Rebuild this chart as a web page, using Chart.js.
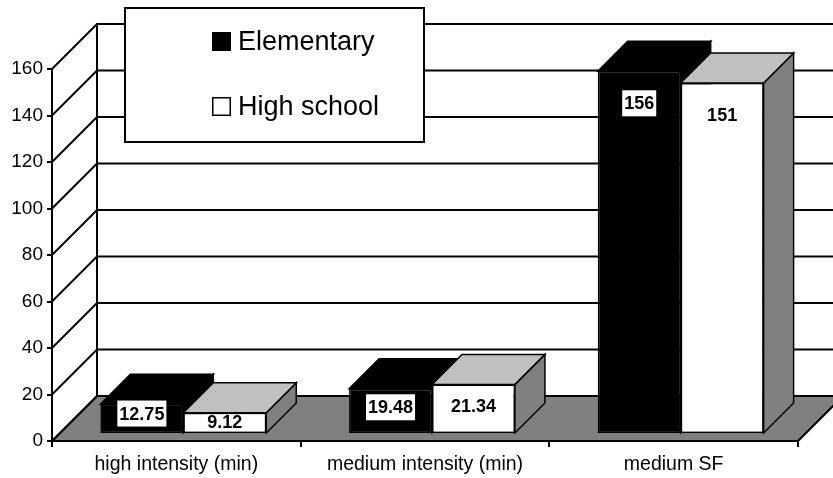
<!DOCTYPE html>
<html>
<head>
<meta charset="utf-8">
<title>Activity minutes by school level</title>
<script src="https://cdn.jsdelivr.net/npm/chart.js@4/dist/chart.umd.min.js"></script>
<style>
  html, body { margin: 0; padding: 0; background: #fff; }
  #wrap { width: 833px; height: 478px; position: relative; }
</style>
</head>
<body>
<div id="wrap"><canvas id="chart" width="833" height="478"></canvas></div>
<script>
// Chart data
const categories = ['high intensity (min)', 'medium intensity (min)', 'medium SF'];
const elementary = [12.75, 19.48, 156];
const highSchool = [9.12, 21.34, 151];
const yMin = 0;
const yMax = 160;
const yStep = 20;

// 3D look: full wall depth, gap before the bars, and bar depth (pixels, oblique 45°)
const WALL_DEPTH = 45;
const BAR_OFFSET = 7;
const BAR_DEPTH = 30;

const FONT = "'Liberation Sans', Arial, Helvetica, sans-serif";
Chart.defaults.color = '#000';
Chart.defaults.font.family = FONT;

function poly(ctx, pts, fill) {
  ctx.beginPath();
  ctx.moveTo(pts[0][0], pts[0][1]);
  for (let i = 1; i < pts.length; i++) ctx.lineTo(pts[i][0], pts[i][1]);
  ctx.closePath();
  if (fill) { ctx.fillStyle = fill; ctx.fill(); }
  ctx.stroke();
}

// Back wall, side wall and floor
const wallsPlugin = {
  id: 'walls3d',
  beforeDraw(chart) {
    const { ctx, chartArea: a, scales: { y } } = chart;
    const D = WALL_DEPTH;
    const y0 = y.getPixelForValue(yMin);
    const yTop = y.getPixelForValue(yMax);
    ctx.save();
    ctx.strokeStyle = '#000';
    ctx.lineWidth = 2;
    ctx.lineJoin = 'miter';
    // floor
    poly(ctx, [[a.left, y0], [a.left + D, y0 - D], [a.right + D, y0 - D], [a.right, y0]], '#808080');
    // grid lines across the side wall and back wall
    y.ticks.forEach(t => {
      const py = y.getPixelForValue(t.value);
      ctx.beginPath();
      ctx.moveTo(a.left, py);
      ctx.lineTo(a.left + D, py - D);
      ctx.lineTo(chart.width + 2, py - D);
      ctx.stroke();
    });
    // back corner of the walls
    ctx.beginPath();
    ctx.moveTo(a.left + D, yTop - D);
    ctx.lineTo(a.left + D, y0 - D);
    ctx.stroke();
    ctx.restore();
  }
};

function barList(chart) {
  const list = [];
  chart.data.datasets.forEach((ds, di) => {
    const meta = chart.getDatasetMeta(di);
    meta.data.forEach((bar, i) => {
      const p = bar.getProps(['x', 'y', 'base', 'width'], true);
      list.push({ ds, p, value: ds.data[i] });
    });
  });
  list.sort((m, n) => m.p.x - n.p.x);
  return list;
}

// Side and top faces of the bars, and their value labels
const barsPlugin = {
  id: 'bars3d',
  beforeDatasetsDraw(chart) {
    const { ctx } = chart;
    const d = BAR_DEPTH;
    ctx.save();
    ctx.translate(BAR_OFFSET, -BAR_OFFSET);
    ctx.strokeStyle = '#000';
    ctx.lineWidth = 1.5;
    barList(chart).forEach(({ ds, p }) => {
      const xl = p.x - p.width / 2;
      const xr = p.x + p.width / 2;
      poly(ctx, [[xr, p.y], [xr + d, p.y - d], [xr + d, p.base - d], [xr, p.base]], ds.sideColor);
      poly(ctx, [[xl, p.y], [xl + d, p.y - d], [xr + d, p.y - d], [xr, p.y]], ds.topColor);
    });
    // front faces are drawn by Chart.js inside this translated frame
  },
  afterDatasetsDraw(chart) {
    const { ctx } = chart;
    ctx.restore();
    ctx.save();
    ctx.translate(BAR_OFFSET, -BAR_OFFSET);
    ctx.font = 'bold 18px ' + FONT;
    ctx.textAlign = 'center';
    ctx.textBaseline = 'middle';
    barList(chart).forEach(({ ds, p, value }) => {
      const h = p.base - p.y;
      const cy = p.y + Math.min(Math.max(h * 0.6 - 8, 9), 32);
      const txt = String(value);
      const tw = ctx.measureText(txt).width;
      if (ds.labelBox) {
        ctx.fillStyle = '#fff';
        ctx.fillRect(p.x - tw / 2 - 2, cy - 13, tw + 4, 26);
      }
      ctx.fillStyle = '#000';
      ctx.fillText(txt, p.x, cy + 1);
    });
    ctx.restore();
  }
};

// Boxed legend floating over the back wall
const legendPlugin = {
  id: 'boxLegend',
  afterDraw(chart) {
    const { ctx } = chart;
    const bx = 125, by = 8, bw = 299, bh = 134;
    ctx.save();
    ctx.fillStyle = '#fff';
    ctx.fillRect(bx, by, bw, bh);
    ctx.strokeStyle = '#000';
    ctx.lineWidth = 2;
    ctx.strokeRect(bx, by, bw, bh);
    ctx.font = '27px ' + FONT;
    ctx.textAlign = 'left';
    ctx.textBaseline = 'middle';
    chart.data.datasets.forEach((ds, i) => {
      const cy = 42 + i * 65;
      ctx.fillStyle = ds.backgroundColor;
      ctx.fillRect(212, cy - 10, 19, 19);
      ctx.lineWidth = 1.5;
      ctx.strokeRect(212.75, cy - 9.25, 17.5, 17.5);
      ctx.fillStyle = '#000';
      ctx.fillText(ds.label, 238, cy + 1);
    });
    ctx.restore();
  }
};

new Chart(document.getElementById('chart'), {
  type: 'bar',
  data: {
    labels: categories,
    datasets: [
      {
        label: 'Elementary',
        data: elementary,
        backgroundColor: '#000000',
        topColor: '#000000',
        sideColor: '#000000',
        labelBox: true,
        borderColor: '#000',
        borderWidth: 1.5,
        borderSkipped: false
      },
      {
        label: 'High school',
        data: highSchool,
        backgroundColor: '#ffffff',
        topColor: '#c0c0c0',
        sideColor: '#808080',
        labelBox: false,
        borderColor: '#000',
        borderWidth: 1.5,
        borderSkipped: false
      }
    ]
  },
  options: {
    responsive: false,
    animation: false,
    devicePixelRatio: 1,
    categoryPercentage: 0.667,
    barPercentage: 1.0,
    layout: { padding: { top: 69, right: 35, bottom: 0, left: 0 } },
    plugins: {
      legend: { display: false },
      tooltip: { enabled: false }
    },
    datasets: { bar: { clip: false } },
    scales: {
      x: {
        offset: true,
        grid: { offset: true, drawOnChartArea: false, drawTicks: true, tickLength: 6, color: '#000', lineWidth: 2 },
        border: { display: true, color: '#000', width: 2 },
        ticks: { font: { size: 19.5 }, padding: 6, maxRotation: 0, autoSkip: false },
        afterFit(scale) { scale.height = 37; }
      },
      y: {
        min: yMin,
        max: yMax,
        grid: { drawOnChartArea: false, drawTicks: true, tickLength: 5, color: '#000', lineWidth: 2 },
        border: { display: true, color: '#000', width: 2 },
        ticks: { stepSize: yStep, font: { size: 19 }, padding: 4 },
        afterFit(scale) { scale.width = 52; }
      }
    }
  },
  plugins: [wallsPlugin, barsPlugin, legendPlugin]
});
</script>
</body>
</html>
